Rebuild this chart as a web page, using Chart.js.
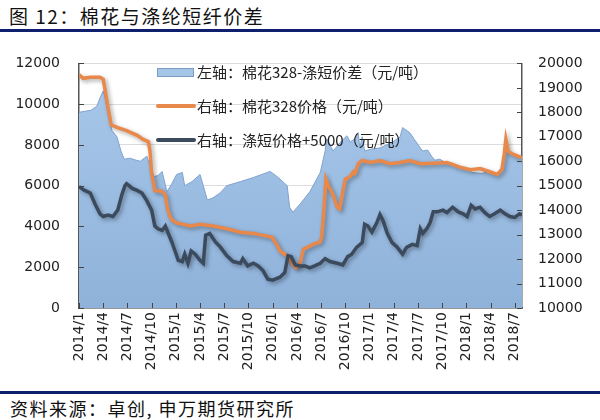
<!DOCTYPE html>
<html>
<head>
<meta charset="utf-8">
<script src="https://cdn.jsdelivr.net/npm/chart.js@4"></script>
<style>
    body { margin: 0; background: #fff; width: 600px; height: 420px; position: relative; overflow: hidden; font-family: "Noto Sans CJK SC", sans-serif; }
    #title { position: absolute; left: 9px; top: 2px; font-size: 19px; letter-spacing: 1.5px; color: #111; }
    .rule { position: absolute; left: 0; width: 600px; height: 3px; background: #0e1f6e; }
    #source { position: absolute; left: 10px; top: 395px; font-size: 18px; letter-spacing: 1.5px; color: #111; }
    #wrap { position: absolute; left: 0; top: 36px; width: 600px; height: 354px; }
</style>
</head>
<body>
<div id="title">图 12：棉花与涤纶短纤价差</div>
<div class="rule" style="top: 29px;"></div>
<div id="wrap"><canvas id="chart"></canvas></div>
<div class="rule" style="top: 391px;"></div>
<div id="source">资料来源：卓创, 申万期货研究所</div>
<script>
// x values are months since 2014/1 (0 = start of 2014/1)
const spreadMonths = [0, 0.7, 1.5, 2.2, 2.6, 3.0, 3.3, 3.6, 4.1, 4.7, 5.2, 5.6, 6.3, 7.1, 7.6, 8.4, 8.8, 9.3, 9.8, 10.3, 10.9, 11.5, 12.1, 12.8, 13.1, 14.0, 15.0, 15.4, 15.9, 16.6, 17.5, 18.3, 20.0, 21.6, 23.7, 24.7, 25.8, 26.1, 26.5, 27.4, 28.6, 29.9, 30.5, 30.7, 31.5, 32.3, 33.2, 33.6, 34.2, 34.6, 34.8, 35.1, 35.4, 36.3, 37.3, 38.9, 39.8, 40.1, 41.0, 41.6, 42.3, 42.6, 43.2, 43.7, 44.1, 44.7, 45.6, 46.3, 47.2, 48.1, 48.7, 49.9, 50.9, 51.8, 52.4, 52.7, 52.9, 53.2, 53.7, 54.3, 54.9];
const spreadValues = [9600, 9650, 9700, 9900, 10300, 10650, 10200, 9500, 8700, 8400, 7700, 7300, 7350, 7250, 7200, 7450, 7000, 6450, 6500, 6700, 5700, 6100, 6550, 6650, 6000, 6200, 6550, 6000, 5300, 5400, 5650, 6000, 6200, 6400, 6700, 6400, 6000, 4950, 4700, 5100, 5700, 6650, 7700, 8300, 7700, 8100, 8450, 8150, 8300, 8600, 7850, 8400, 7700, 7800, 7850, 8150, 8400, 8850, 8600, 8250, 7850, 7700, 7750, 7450, 7250, 7300, 7100, 7100, 6900, 6850, 6650, 6600, 6700, 6600, 6900, 7700, 8200, 7700, 7500, 7450, 7350];

const cottonMonths = [0, 0.5, 1.4, 2.6, 3.0, 3.2, 3.6, 4.0, 4.8, 5.9, 7.2, 7.9, 8.6, 8.8, 9.0, 9.4, 10.3, 10.7, 11.0, 11.4, 12.1, 13.8, 15.0, 16.6, 18.3, 20.0, 21.6, 22.8, 23.9, 24.5, 24.9, 25.8, 26.4, 26.9, 27.4, 27.8, 28.3, 29.0, 29.9, 30.1, 30.4, 30.6, 30.9, 31.5, 32.0, 32.3, 32.7, 33.0, 33.6, 34.0, 34.2, 34.6, 35.1, 36.1, 37.3, 38.5, 39.8, 41.0, 42.3, 43.9, 45.6, 47.2, 48.5, 49.7, 50.9, 51.8, 52.4, 52.7, 52.9, 53.2, 53.7, 54.3, 54.9];
const cottonValues = [19540, 19390, 19430, 19430, 19350, 18970, 18200, 17480, 17370, 17250, 17060, 16900, 16800, 16400, 15530, 14800, 14770, 14620, 14000, 13630, 13480, 13350, 13420, 13350, 13240, 13100, 13050, 12970, 12900, 12600, 12330, 12140, 11830, 11640, 11830, 12400, 12480, 12600, 12700, 12980, 14240, 15270, 15000, 14620, 14120, 14050, 14770, 15270, 15380, 15570, 15500, 15900, 16030, 15950, 16030, 15900, 15950, 16030, 15900, 15920, 15950, 15760, 15650, 15700, 15570, 15460, 15650, 16300, 16900, 16400, 16300, 16220, 16150];

const polyMonths = [0, 0.7, 1.4, 2.0, 2.6, 3.0, 3.6, 4.2, 4.8, 5.3, 5.7, 5.9, 6.6, 7.2, 7.8, 8.4, 9.0, 9.4, 9.8, 10.3, 10.7, 11.0, 11.5, 11.9, 12.3, 12.8, 13.1, 13.5, 13.9, 14.4, 15.0, 15.4, 15.7, 16.2, 16.9, 17.5, 18.3, 19.1, 20.0, 20.3, 20.9, 21.6, 22.2, 22.8, 23.4, 24.0, 24.9, 25.5, 25.9, 26.3, 26.8, 27.4, 28.0, 28.6, 29.2, 29.9, 30.5, 31.1, 32.0, 32.7, 33.3, 33.8, 34.4, 35.1, 35.4, 35.8, 36.3, 36.9, 37.3, 37.7, 38.2, 38.8, 39.4, 40.1, 40.6, 41.3, 41.9, 42.3, 42.6, 43.1, 43.5, 43.9, 44.4, 45.1, 45.6, 46.3, 47.0, 47.6, 48.1, 48.6, 49.1, 49.7, 50.3, 50.9, 51.5, 52.2, 52.8, 53.4, 54.0, 54.6, 54.9];
const polyValues = [14960, 14810, 14700, 14240, 13850, 13740, 13800, 13740, 14000, 14620, 15000, 15080, 14890, 14810, 14700, 14390, 14000, 13350, 13240, 13170, 13350, 13100, 12700, 12330, 11950, 11900, 12200, 11830, 12330, 12200, 11950, 11830, 12980, 13050, 12700, 12500, 12140, 11900, 11830, 12020, 11720, 11830, 11720, 11530, 11180, 11140, 11260, 11450, 12140, 12100, 11760, 11720, 11720, 11640, 11720, 11830, 12020, 11900, 11830, 11760, 12100, 12200, 12480, 12670, 13420, 13350, 13100, 13480, 13820, 13550, 13050, 12670, 12500, 12200, 12480, 12600, 12550, 13240, 13050, 13240, 13480, 13930, 13930, 14000, 13900, 14120, 13930, 13850, 13740, 14200, 14050, 14120, 13900, 13740, 13850, 14000, 13850, 13740, 13700, 13850, 13800];

const seriesLabels = ['左轴：棉花328-涤短价差（元/吨）', '右轴：棉花328价格（元/吨）', '右轴：涤短价格+5000（元/吨）'];
const leftTicks = [0, 12000, 2000];
const rightTicks = [10000, 20000, 1000];

const toPoints = (xs, ys) => xs.map((m, i) => ({ x: m, y: ys[i] }));
const monthLabel = v => `${2014 + Math.floor(v / 12)}/${(v % 12) + 1}`;

// soft drop shadow under the two lines
const shadowPlugin = {
    id: 'lineShadow',
    beforeDatasetDraw(chart, args) {
        if (args.index === 0) return;
        const ctx = chart.ctx;
        ctx.save();
        ctx.shadowColor = 'rgba(0,0,0,0.35)';
        ctx.shadowBlur = 4;
        ctx.shadowOffsetX = 2;
        ctx.shadowOffsetY = 2;
    },
    afterDatasetDraw(chart, args) {
        if (args.index === 0) return;
        chart.ctx.restore();
    }
};

// inside tick marks on the three axes
const tickMarks = {
    id: 'tickMarks',
    afterDatasetsDraw(chart) {
        const ctx = chart.ctx;
        const { x, yL, yR } = chart.scales;
        const area = chart.chartArea;
        ctx.save();
        ctx.strokeStyle = '#444';
        ctx.lineWidth = 1;
        ctx.beginPath();
        yL.ticks.forEach(t => {
            const py = Math.round(yL.getPixelForValue(t.value)) + 0.5;
            ctx.moveTo(area.left, py); ctx.lineTo(area.left + 5, py);
        });
        yR.ticks.forEach(t => {
            const py = Math.round(yR.getPixelForValue(t.value)) + 0.5;
            ctx.moveTo(area.right, py); ctx.lineTo(area.right - 5, py);
        });
        x.ticks.forEach(t => {
            const px = Math.round(x.getPixelForValue(t.value)) + 0.5;
            ctx.moveTo(px, area.bottom); ctx.lineTo(px, area.bottom - 5);
        });
        ctx.stroke();
        ctx.restore();
    }
};

// legend drawn inside the plot area
const innerLegend = {
    id: 'innerLegend',
    afterDraw(chart) {
        const ctx = chart.ctx;
        const rows = [36, 70, 104];
        ctx.save();
        ctx.font = '15px "Noto Sans CJK SC"';
        ctx.textBaseline = 'middle';
        chart.data.datasets.forEach((ds, i) => {
            const y = rows[i];
            if (i === 0) {
                ctx.fillStyle = '#a6c6e8';
                ctx.fillRect(157, y - 4, 36, 8);
                ctx.strokeStyle = '#7d9cc4';
                ctx.lineWidth = 1;
                ctx.strokeRect(157.5, y - 3.5, 36, 8);
            } else {
                ctx.strokeStyle = ds.borderColor;
                ctx.lineWidth = 4;
                ctx.lineCap = 'round';
                ctx.beginPath();
                ctx.moveTo(158, y); ctx.lineTo(194, y);
                ctx.stroke();
            }
            ctx.fillStyle = '#222';
            ctx.fillText(ds.label, 197, y);
        });
        ctx.restore();
    }
};

const tickFont = { family: 'DejaVu Sans', size: 14 };

new Chart(document.getElementById('chart'), {
    type: 'line',
    data: {
        datasets: [
            {
                label: seriesLabels[0],
                data: toPoints(spreadMonths, spreadValues),
                yAxisID: 'yL',
                fill: 'origin',
                borderColor: '#80a3cd',
                borderWidth: 1,
                backgroundColor: ctx => {
                    const area = ctx.chart.chartArea;
                    if (!area) return '#a0c0e3';
                    const g = ctx.chart.ctx.createLinearGradient(0, area.top, 0, area.bottom);
                    g.addColorStop(0, '#a9c9ea');
                    g.addColorStop(1, '#8fb2da');
                    return g;
                },
                pointRadius: 0,
                tension: 0,
                order: 2
            },
            {
                label: seriesLabels[1],
                data: toPoints(cottonMonths, cottonValues),
                yAxisID: 'yR',
                borderColor: '#e8884a',
                borderWidth: 3.5,
                pointRadius: 0,
                tension: 0,
                order: 1
            },
            {
                label: seriesLabels[2],
                data: toPoints(polyMonths, polyValues),
                yAxisID: 'yR',
                borderColor: '#3c4a5e',
                borderWidth: 3.5,
                pointRadius: 0,
                tension: 0,
                order: 0
            }
        ]
    },
    options: {
        responsive: true,
        maintainAspectRatio: false,
        animation: false,
        layout: { padding: { top: 10, left: 0, right: 0, bottom: 0 } },
        plugins: { legend: { display: false }, tooltip: { enabled: false } },
        scales: {
            x: {
                type: 'linear',
                min: 0,
                max: 54.9,
                afterFit: s => { s.height = 82; },
                grid: { display: false, drawTicks: false },
                border: { color: '#555', width: 1.5 },
                ticks: {
                    stepSize: 3,
                    includeBounds: false,
                    autoSkip: false,
                    minRotation: 90,
                    maxRotation: 90,
                    padding: 4,
                    color: '#222',
                    font: tickFont,
                    callback: v => monthLabel(v)
                }
            },
            yL: {
                position: 'left',
                min: leftTicks[0],
                max: leftTicks[1],
                afterFit: s => { s.width = 79; },
                grid: { color: '#dcdcdc', drawTicks: false },
                border: { color: '#555', width: 1.5 },
                ticks: { stepSize: leftTicks[2], padding: 19, color: '#222', font: tickFont, callback: v => String(v) }
            },
            yR: {
                position: 'right',
                min: rightTicks[0],
                max: rightTicks[1],
                afterFit: s => { s.width = 78; },
                grid: { display: false, drawTicks: false },
                border: { color: '#555', width: 1.5 },
                ticks: { stepSize: rightTicks[2], padding: 16, color: '#222', font: tickFont, callback: v => String(v) }
            }
        }
    },
    plugins: [shadowPlugin, tickMarks, innerLegend]
});
</script>
</body>
</html>
